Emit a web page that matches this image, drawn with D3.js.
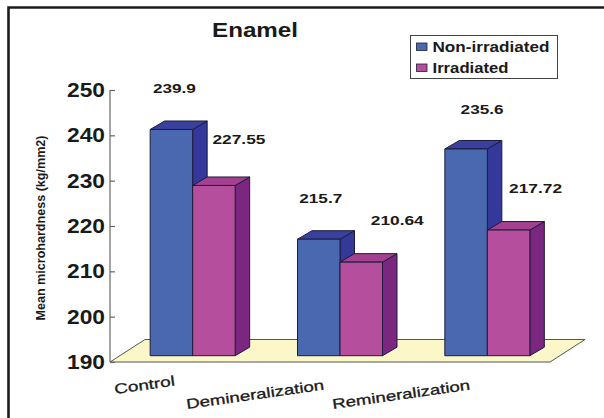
<!DOCTYPE html>
<html>
<head>
<meta charset="utf-8">
<script src="https://cdn.jsdelivr.net/npm/d3@7"></script>
<style>
  html, body { margin: 0; padding: 0; background: #fff; }
  svg { display: block; }
  text { font-family: "Liberation Sans", Arial, sans-serif; font-weight: bold; fill: #1a1a1a; }
</style>
</head>
<body>
<svg id="chart" width="604" height="418"></svg>
<script>
const categories = ["Control", "Demineralization", "Remineralization"];
const seriesNames = ["Non-irradiated", "Irradiated"];
const nonIrradiated = [239.9, 215.7, 235.6];
const irradiated = [227.55, 210.64, 217.72];
const valueLabels = [["239.9", "227.55"], ["215.7", "210.64"], ["235.6", "217.72"]];
const yTicks = [190, 200, 210, 220, 230, 240, 250];

const seriesColors = [
  { front: "#4a68af", side: "#33389a", top: "#3a409e" },
  { front: "#b54f9d", side: "#7b267f", top: "#a3408f" }
];

// Oblique projection used by the floor and the bars
const floorDepth = { x: 35, y: -22.5 };
const barDepth = { x: 14.5, y: -8.5 };
const frontInset = { x: 9, y: -6.3 };
const barWidth = 42.5;
const floorRight = 550;

const svg = d3.select("#chart");

const x = d3.scaleBand().domain(categories).range([110, 552]);
const y = d3.scaleLinear().domain([190, 250]).range([362, 90]);

// Page frame
svg.append("path")
  .attr("d", "M8.5,418V7.5H604")
  .attr("fill", "none")
  .attr("stroke", "#1c1c1c")
  .attr("stroke-width", 2.6);

// Title
svg.append("text")
  .attr("x", 212).attr("y", 37)
  .attr("font-size", 21)
  .attr("textLength", 86).attr("lengthAdjust", "spacingAndGlyphs")
  .text("Enamel");

// Floor
const x0 = x.range()[0];
svg.append("path")
  .attr("d", d3.line()([
    [x0, y(190)], [floorRight, y(190)],
    [floorRight + floorDepth.x, y(190) + floorDepth.y],
    [x0 + floorDepth.x, y(190) + floorDepth.y]
  ]) + "Z")
  .attr("fill", "#fbf7c8")
  .attr("stroke", "#555")
  .attr("stroke-width", 1);

// Value axis
const axis = svg.append("g")
  .attr("transform", `translate(${x0},0)`)
  .call(d3.axisRight(y).tickValues(yTicks).tickSize(5).tickFormat(""));
axis.selectAll("path, line").attr("stroke", "#666").attr("stroke-width", 1.2);
axis.select(".domain").attr("d", `M0,${y(250)}V${y(190)}`);

svg.selectAll(".y-label")
  .data(yTicks)
  .join("text")
  .attr("class", "y-label")
  .attr("x", 105).attr("y", d => y(d) + 7)
  .attr("text-anchor", "end")
  .attr("font-size", 20)
  .attr("textLength", 38).attr("lengthAdjust", "spacingAndGlyphs")
  .text(d => d);

// Value axis title
svg.append("text")
  .attr("transform", "translate(44.5,320.5) rotate(-90)")
  .attr("font-size", 13)
  .attr("textLength", 185).attr("lengthAdjust", "spacingAndGlyphs")
  .style("font-family", "'Liberation Sans Narrow', 'Liberation Sans', sans-serif")
  .text("Mean microhardness (kg/mm2)");

// Bars, drawn group by group so the nearer faces overlap correctly
const rows = categories.map((c, i) => ({
  category: c,
  values: [nonIrradiated[i], irradiated[i]]
}));

const group = svg.selectAll(".group")
  .data(rows)
  .join("g")
  .attr("class", "group")
  .attr("transform", d =>
    `translate(${x(d.category) + x.bandwidth() / 2 + frontInset.x},${frontInset.y})`);

group.each(function (row) {
  const g = d3.select(this);
  row.values.forEach((v, s) => {
    const left = (s - 1) * barWidth;
    const right = left + barWidth;
    const top = y(v), base = y(190);
    const c = seriesColors[s];
    const dx = barDepth.x, dy = barDepth.y;
    const face = pts => g.append("path").attr("d", d3.line()(pts) + "Z")
      .attr("stroke", "#1d1d3a").attr("stroke-width", 1).attr("stroke-linejoin", "round");
    face([[right, top], [right + dx, top + dy], [right + dx, base + dy], [right, base]]).attr("fill", c.side);
    face([[left, top], [left + dx, top + dy], [right + dx, top + dy], [right, top]]).attr("fill", c.top);
    face([[left, top], [right, top], [right, base], [left, base]]).attr("fill", c.front);
  });
});

// Value labels float above and to the right of their bars
const labelNudgeX = [[3, 25], [2, 36], [16, 27]];
const labelNudgeY = [[-36, -41], [-36, -37], [-35, -37]];
const labelWidth = s => s.length > 5 ? 53 : 43;
rows.forEach((row, i) => {
  row.values.forEach((v, s) => {
    const text = valueLabels[i][s];
    const cx = x(row.category) + x.bandwidth() / 2 + frontInset.x + (s - 0.5) * barWidth + labelNudgeX[i][s];
    svg.append("text")
      .attr("class", "value-label")
      .attr("x", cx).attr("y", y(v) + frontInset.y + labelNudgeY[i][s])
      .attr("text-anchor", "middle")
      .attr("font-size", 13)
      .attr("textLength", labelWidth(text)).attr("lengthAdjust", "spacingAndGlyphs")
      .text(text);
  });
});

// Slanted category labels
const categoryLabelPos = [[115, 394], [187, 409], [333, 409]];
const categoryWidths = [61, 139, 139];
categories.forEach((c, i) => {
  svg.append("text")
    .attr("transform", `translate(${categoryLabelPos[i][0]},${categoryLabelPos[i][1]}) rotate(-8)`)
    .attr("font-size", 14)
    .style("font-weight", "normal")
    .attr("stroke", "#1a1a1a").attr("stroke-width", 0.3)
    .attr("textLength", categoryWidths[i]).attr("lengthAdjust", "spacingAndGlyphs")
    .text(c);
});

// Legend
const legend = svg.append("g").attr("transform", "translate(410.5,35.5)");
legend.append("rect")
  .attr("width", 147).attr("height", 43)
  .attr("fill", "#fff").attr("stroke", "#444").attr("stroke-width", 1);
seriesNames.forEach((name, i) => {
  const rowY = 11.5 + i * 21;
  legend.append("rect")
    .attr("x", 6).attr("y", rowY - 4).attr("width", 10.5).attr("height", 7.5)
    .attr("fill", seriesColors[i].front).attr("stroke", "#1d1d3a").attr("stroke-width", 0.8);
  legend.append("text")
    .attr("x", 22).attr("y", rowY + 5)
    .attr("font-size", 14.5)
    .attr("textLength", i === 0 ? 117 : 76).attr("lengthAdjust", "spacingAndGlyphs")
    .text(name);
});
</script>
</body>
</html>
